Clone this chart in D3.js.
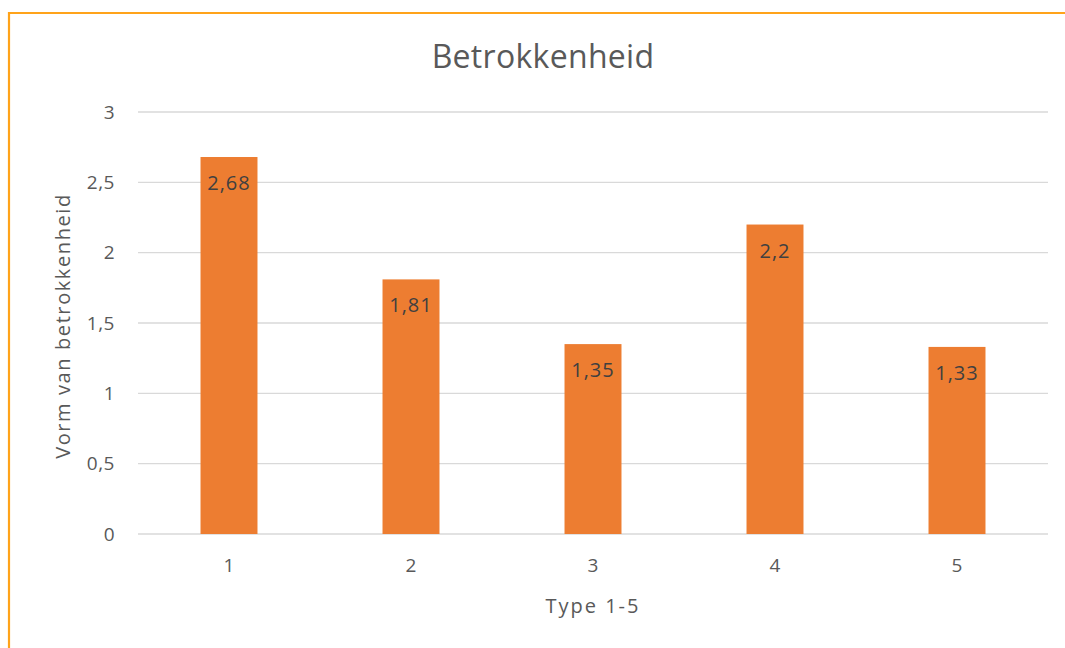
<!DOCTYPE html>
<html><head><meta charset="utf-8">
<script src="https://cdn.jsdelivr.net/npm/d3@7"></script>
<style>body{margin:0;background:#fff}svg{display:block}</style>
</head><body>
<svg id="c" width="1065" height="648"></svg>
<script>
const categories = ["1","2","3","4","5"];
const values = [2.68, 1.81, 1.35, 2.2, 1.33];
const valueLabels = ["2,68","1,81","1,35","2,2","1,33"];
const yTicks = [0,0.5,1,1.5,2,2.5,3];
const yTickLabels = ["0","0,5","1","1,5","2","2,5","3"];
const title = "Betrokkenheid";
const xTitle = "Type 1-5";
const yTitle = "Vorm van betrokkenheid";

const svg = d3.select("#c");
const font = "'Open Sans', sans-serif";
const m = {left:138, right:1048, top:112, bottom:534};

// frame border
svg.append("line").attr("x1",9).attr("x2",1065).attr("y1",13).attr("y2",13)
  .attr("stroke","#ffa31a").attr("stroke-width",2.2);
svg.append("line").attr("x1",9).attr("x2",9).attr("y1",12).attr("y2",648)
  .attr("stroke","#ffa31a").attr("stroke-width",2.2);

const x = d3.scaleBand().domain(categories).range([m.left,m.right]).paddingInner(0.687).paddingOuter(0.3435);
const y = d3.scaleLinear().domain([0,3]).range([m.bottom,m.top]);

// gridlines
svg.append("g").selectAll("line").data(yTicks).join("line")
  .attr("x1",m.left).attr("x2",m.right)
  .attr("y1",d=>y(d)).attr("y2",d=>y(d))
  .attr("stroke","#d9d9d9").attr("stroke-width",1.3);

// y tick labels
svg.append("g").selectAll("text").data(yTicks).join("text")
  .attr("x",115).attr("y",d=>y(d)).attr("dy","0.35em")
  .attr("text-anchor","end").attr("font-family",font).attr("font-size",19)
  .attr("letter-spacing",0.5)
  .attr("fill","#595959").text((d,i)=>yTickLabels[i]);

// bars
svg.append("g").selectAll("rect").data(values).join("rect")
  .attr("x",(d,i)=>x(categories[i])).attr("width",x.bandwidth())
  .attr("y",d=>y(d)).attr("height",d=>y(0)-y(d))
  .attr("fill","#ed7d31");

// data labels
svg.append("g").selectAll("text").data(values).join("text")
  .attr("x",(d,i)=>x(categories[i])+x.bandwidth()/2)
  .attr("y",d=>y(d)+26).attr("dy","0.35em")
  .attr("text-anchor","middle").attr("font-family",font).attr("font-size",20)
  .attr("letter-spacing",1)
  .attr("fill","#404040").text((d,i)=>valueLabels[i]);

// x tick labels
svg.append("g").selectAll("text").data(categories).join("text")
  .attr("x",d=>x(d)+x.bandwidth()/2).attr("y",565).attr("dy","0.35em")
  .attr("text-anchor","middle").attr("font-family",font).attr("font-size",19)
  .attr("fill","#595959").text(d=>d);

// axis titles
svg.append("text").attr("x",593).attr("y",606).attr("dy","0.35em")
  .attr("text-anchor","middle").attr("font-family",font).attr("font-size",20)
  .attr("letter-spacing",2)
  .attr("fill","#595959").text(xTitle);
svg.append("text").attr("transform","translate(63,326) rotate(-90)").attr("dy","0.35em")
  .attr("text-anchor","middle").attr("font-family",font).attr("font-size",20)
  .attr("letter-spacing",1.6)
  .attr("fill","#595959").text(yTitle);

// title
svg.append("text").attr("x",543).attr("y",57).attr("dy","0.35em")
  .attr("text-anchor","middle").attr("font-family",font).attr("font-size",32)
  .attr("letter-spacing",0.3)
  .attr("fill","#595959").text(title);
</script>
</body></html>
